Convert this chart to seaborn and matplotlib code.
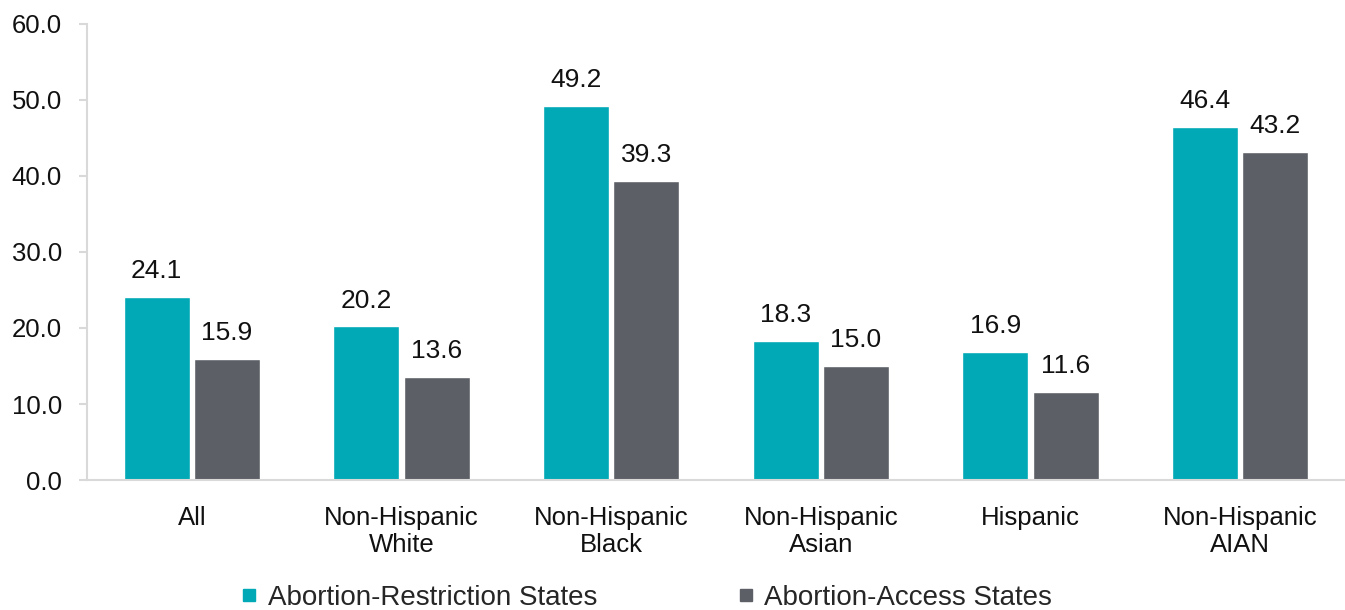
import matplotlib
matplotlib.use("Agg")
import matplotlib.pyplot as plt
from matplotlib.lines import Line2D
import seaborn as sns
import pandas as pd

categories = ["All", "Non-Hispanic\nWhite", "Non-Hispanic\nBlack",
              "Non-Hispanic\nAsian", "Hispanic", "Non-Hispanic\nAIAN"]
restriction = [24.1, 20.2, 49.2, 18.3, 16.9, 46.4]
access = [15.9, 13.6, 39.3, 15.0, 11.6, 43.2]
series_names = ["Abortion-Restriction States", "Abortion-Access States"]
y_ticks = [0, 10, 20, 30, 40, 50, 60]

colors = ["#00A9B5", "#5C5F66"]
axis_grey = "#D9D9D9"

df = pd.DataFrame({
    "category": categories * 2,
    "value": restriction + access,
    "series": [series_names[0]] * len(categories) + [series_names[1]] * len(categories),
})

sns.set_theme(style="white")
plt.rcParams["font.family"] = ["Liberation Sans", "DejaVu Sans"]

fig = plt.figure(figsize=(13.45, 6.10), dpi=100)
ax = fig.add_axes([0.0647, 0.2131, 0.9353, 0.7476])

sns.barplot(data=df, x="category", y="value", hue="series", order=categories,
            hue_order=series_names, palette=colors, width=0.67, gap=0.06,
            saturation=1, legend=False, ax=ax)

for container in ax.containers:
    ax.bar_label(container, fmt="%.1f", padding=10, fontsize=19, color="#111111")

ax.set_ylim(0, 60)
ax.set_xlim(-0.5, len(categories) - 0.5)
ax.set_yticks(y_ticks)
ax.set_yticklabels([f"{t:.1f}" for t in y_ticks], fontsize=18.5, color="#111111")
ax.set_xticklabels(categories, fontsize=18.5, color="#111111", linespacing=1.15)
ax.set_xlabel("")
ax.set_ylabel("")

for side in ["top", "right"]:
    ax.spines[side].set_visible(False)
for side in ["left", "bottom"]:
    ax.spines[side].set_color(axis_grey)
    ax.spines[side].set_linewidth(1.5)

ax.tick_params(axis="y", left=True, length=6, width=1.5, color=axis_grey, pad=12)
ax.tick_params(axis="x", bottom=False, pad=13)

handles = [Line2D([0], [0], marker="s", linestyle="", markersize=9,
                  markerfacecolor=c, markeredgecolor=c) for c in colors]
fig.legend(handles, series_names, loc="center", bbox_to_anchor=(0.48, 0.02),
           ncol=2, frameon=False, fontsize=20, handlelength=0.7,
           handletextpad=0.3, columnspacing=5.0)

fig.savefig("out.png", dpi=100)
